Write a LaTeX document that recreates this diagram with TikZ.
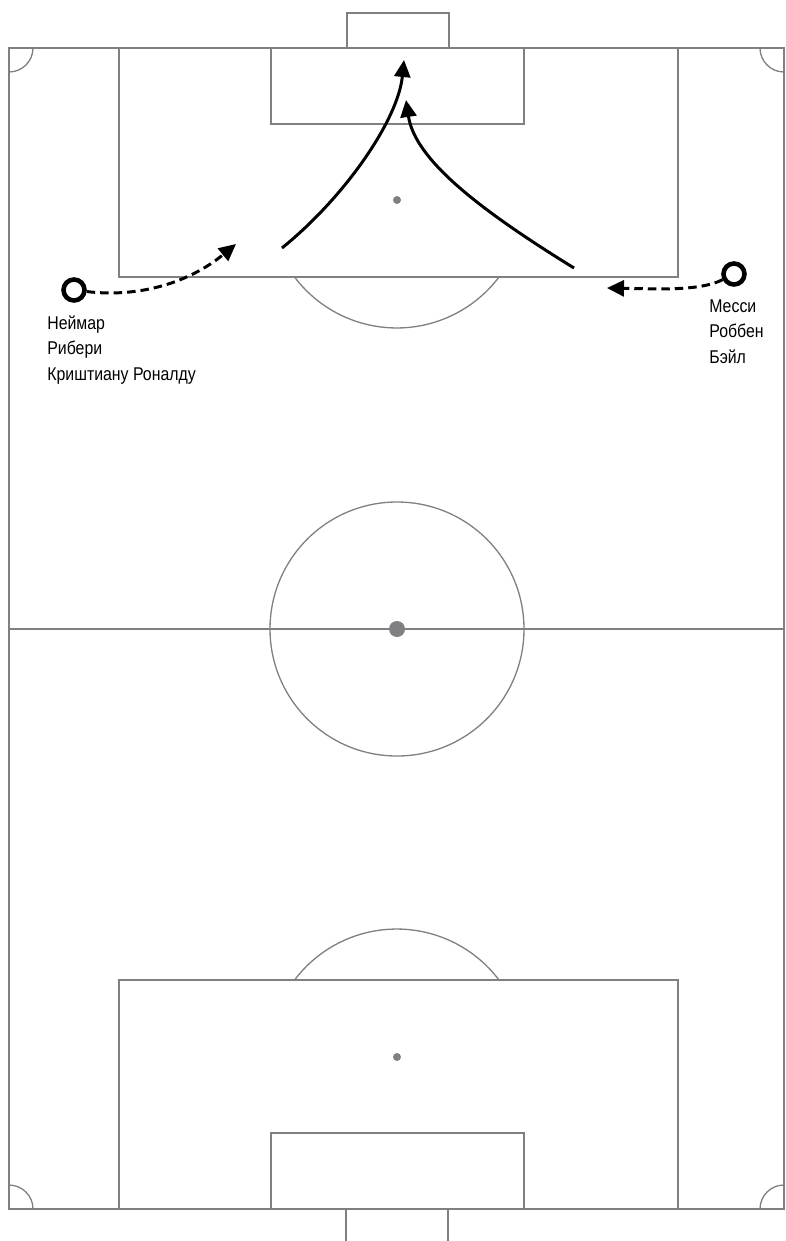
\documentclass[tikz,border=0pt]{standalone}
\usepackage{fontspec}
\setmainfont[FakeStretch=0.86]{Liberation Sans}
\usepackage{tikz}
\usetikzlibrary{arrows.meta}
\definecolor{pitchgray}{RGB}{128,128,131}
\tikzset{
  pitchline/.style = {draw=pitchgray,line width=0.75pt},
  spotdot/.style   = {fill=pitchgray},
  player/.style    = {circle,draw=black,line width=2.6pt,minimum size=0.42cm,inner sep=0pt},
  names/.style     = {align=left,anchor=north west,inner sep=0pt,
                      font=\fontsize{10.5}{14.6}\selectfont},
  shotarr/.style   = {-{Triangle[length=3.4mm,width=3.2mm]},line width=1.7pt},
  runarr/.style    = {-{Triangle[length=3.4mm,width=3.2mm]},line width=1.7pt,
                      dash pattern=on 0.17cm off 0.1cm}
}

\begin{document}
\begin{tikzpicture}[x=0.02cm,y=-0.02cm]
  \useasboundingbox (0,0) rectangle (785,1241);
  % pitch
  \draw[pitchline] (9,48) rectangle (784,1209);
  \draw[pitchline] (9,629) -- (784,629);
  \draw[pitchline] (397,629) circle[radius=127];
  \fill[spotdot] (397,629) circle[radius=8];
  % boxes, goals and spots at both ends
  \draw[pitchline] (119,48) rectangle (678,277);
  \draw[pitchline] (271,48) rectangle (524,124);
  \draw[pitchline] (347,48) -- (347,13) -- (449,13) -- (449,48);
  \fill[spotdot] (397,200) circle[radius=4];
  \draw[pitchline] (499,277) arc[start angle=37,end angle=143,radius=128];
  \draw[pitchline] (119,980) rectangle (678,1209);
  \draw[pitchline] (271,1133) rectangle (524,1209);
  \draw[pitchline] (346,1209) -- (346,1241);
  \draw[pitchline] (448,1209) -- (448,1241);
  \fill[spotdot] (397,1057) circle[radius=4];
  \draw[pitchline] (499,980) arc[start angle=-37,end angle=-143,radius=128];
  % corners
  \begin{scope}
    \clip (9,48) rectangle (784,1209);
    \foreach \c in {(9,48),(784,48),(9,1209),(784,1209)}
      \draw[pitchline] \c circle[radius=24];
  \end{scope}

  % players
  \node[player] (lp) at (74,290) {};
  \node[player] (rp) at (734,274) {};
  \node[names] (lnames) at (47,315) {Неймар\\Рибери\\Криштиану Роналду};
  \node[names] (rnames) at (709,299) {Месси\\Роббен\\Бэйл};

  \coordinate (lrun) at (236,244);
  \coordinate (rrun) at (607,288);
  \draw[runarr] (lp) .. controls (140,298) and (190,282) .. (lrun);
  \draw[runarr] (rp) .. controls (700,291) and (660,289) .. (rrun);

  % shots
  \coordinate (s1) at (282,248);
  \coordinate (g1) at (404,60);
  \coordinate (s2) at (574,268);
  \coordinate (g2) at (406,100);
  \draw[shotarr] (s1) .. controls (345,197) and (398,120) .. (g1);
  \draw[shotarr] (s2) .. controls (480,210) and (415,160) .. (g2);
\end{tikzpicture}
\end{document}
